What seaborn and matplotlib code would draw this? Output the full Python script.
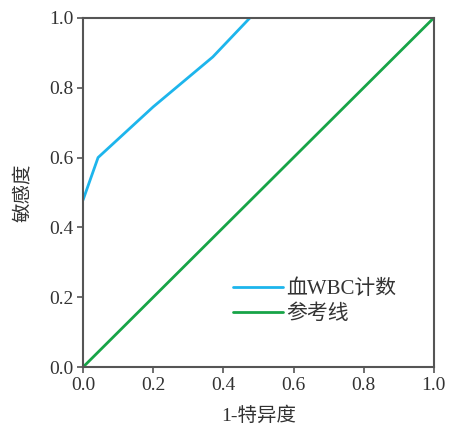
"""ROC curve for blood WBC count"""

import matplotlib
matplotlib.use("Agg")
import matplotlib.pyplot as plt
import pandas as pd
import seaborn as sns

# curve
fpr = [0.0, 0.043, 0.20, 0.37, 0.476]
tpr = [0.478, 0.60, 0.745, 0.888, 1.0]
ref_x = [0.0, 1.0]
ref_y = [0.0, 1.0]
ticks = [0.0, 0.2, 0.4, 0.6, 0.8, 1.0]

sns.set_style("ticks")
plt.rcParams['font.family'] = ['Liberation Serif', 'Noto Sans CJK SC']
plt.rcParams['axes.unicode_minus'] = False

roc = pd.DataFrame({"x": fpr, "y": tpr})
ref = pd.DataFrame({"x": ref_x, "y": ref_y})

fig = plt.figure(figsize=(4.51, 4.34), dpi=100)
ax = fig.add_axes([0.184, 0.154, 0.778, 0.805])

sns.lineplot(data=roc, x="x", y="y", ax=ax, color="#1db5ec", lw=2,
             label="血WBC计数", sort=False, estimator=None)
sns.lineplot(data=ref, x="x", y="y", ax=ax, color="#17a447", lw=2,
             label="参考线", sort=False, estimator=None)

ax.set_xlim(0, 1)
ax.set_ylim(0, 1)
ax.set_xticks(ticks)
ax.set_yticks(ticks)
ax.set_xticklabels([f"{t:.1f}" for t in ticks])
ax.set_yticklabels([f"{t:.1f}" for t in ticks])
ax.tick_params(labelsize=14, colors="#555555", labelcolor="#333333",
               length=4, width=1.2, pad=3)
for s in ax.spines.values():
    s.set_color("#555555")
    s.set_linewidth(1.5)
    s.set_visible(True)

ax.set_xlabel("1-特异度", fontsize=14, color="#333333", labelpad=9)
ax.set_ylabel("敏感度", fontsize=14, color="#333333", labelpad=12)

leg = ax.legend(loc="lower right", bbox_to_anchor=(0.945, 0.07), frameon=False,
                fontsize=15, handlelength=2.4, handletextpad=0.15,
                labelspacing=0.25, labelcolor="#333333")

fig.savefig("out.png", dpi=100)
plt.close(fig)
